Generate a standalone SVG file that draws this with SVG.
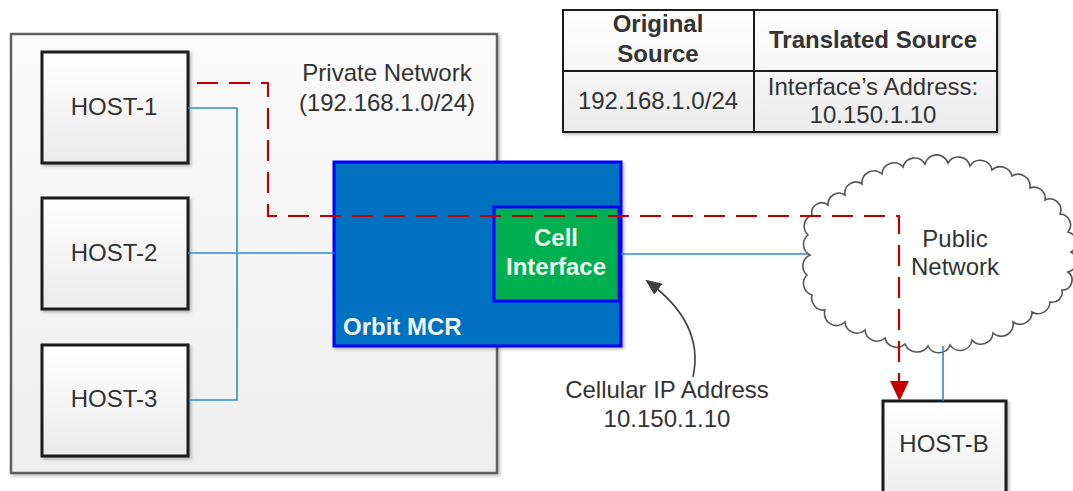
<svg xmlns="http://www.w3.org/2000/svg" width="1073" height="491" viewBox="0 0 1073 491">
<style>
text{font-family:"Liberation Sans",Arial,sans-serif;font-size:24px;fill:#333;text-anchor:middle}
.b{font-weight:bold}
.w{fill:#eef6ee;font-weight:bold}
.host{stroke:#1a1a1a;stroke-width:3;fill:url(#gh)}
.blue{fill:none;stroke:#2f8ad4;stroke-width:1.6}
.red{fill:none;stroke:#c00000;stroke-width:2.2;stroke-dasharray:21 11}
</style>
<defs>
<linearGradient id="gh" x1="0" y1="0" x2="0" y2="1"><stop offset="0" stop-color="#ffffff"/><stop offset="1" stop-color="#ebebeb"/></linearGradient>
<linearGradient id="gp" x1="0" y1="0" x2="0" y2="1"><stop offset="0" stop-color="#fbfbfb"/><stop offset="1" stop-color="#eeeeee"/></linearGradient>
<filter id="sh" x="-5%" y="-5%" width="110%" height="110%"><feDropShadow dx="2" dy="2" stdDeviation="1.5" flood-color="#000" flood-opacity="0.25"/></filter>
<marker id="ag" markerWidth="16" markerHeight="14" refX="14" refY="7" orient="auto" markerUnits="userSpaceOnUse" viewBox="0 0 16 14"><path d="M0,0 L16,7 L0,14 Z" fill="#404040"/></marker>
</defs>

<g id="private-network">
<rect x="11" y="34" width="486" height="439" fill="url(#gp)" stroke="#5f5f5f" stroke-width="2.5" filter="url(#sh)"/>
<text x="387" y="81">Private Network</text>
<text x="387" y="111">(192.168.1.0/24)</text>
</g>

<g id="host-1"><rect class="host" x="42" y="52" width="146" height="111" filter="url(#sh)"/><text x="114" y="115">HOST-1</text></g>
<g id="host-2"><rect class="host" x="42" y="198" width="146" height="111" filter="url(#sh)"/><text x="114" y="261">HOST-2</text></g>
<g id="host-3"><rect class="host" x="42" y="345" width="146" height="111" filter="url(#sh)"/><text x="114" y="407">HOST-3</text></g>

<g id="table">
<rect x="563" y="10" width="434" height="122" fill="url(#gh)" stroke="#1a1a1a" stroke-width="2" filter="url(#sh)"/>
<line x1="563" y1="71" x2="997" y2="71" stroke="#1a1a1a" stroke-width="2"/>
<line x1="754" y1="10" x2="754" y2="132" stroke="#1a1a1a" stroke-width="2"/>
<text class="b" x="658" y="32">Original</text>
<text class="b" x="658" y="62">Source</text>
<text class="b" x="873" y="48">Translated Source</text>
<text x="658" y="109">192.168.1.0/24</text>
<text x="873" y="95">Interface’s Address:</text>
<text x="873" y="123">10.150.1.10</text>
</g>

<g id="orbit-mcr">
<rect x="334" y="162" width="287" height="184" fill="#0070c0" stroke="#0000ff" stroke-width="3" filter="url(#sh)"/>
<text class="w" x="343" y="335" style="text-anchor:start">Orbit MCR</text>
</g>

<g id="cell-interface">
<rect x="494" y="207" width="125" height="94" fill="#00b050" stroke="#0000ff" stroke-width="3"/>
<text class="w" x="556" y="246">Cell</text>
<text class="w" x="556" y="275">Interface</text>
</g>

<g id="public-network">
<path d="M812,215 A12,12 0 0 0 808,235 A12,12 0 0 0 810,255 A12,12 0 0 0 807,275 A12,12 0 0 0 812,295 A12,12 0 0 0 825,310 A12,12 0 0 0 845,322 A12,12 0 0 0 865,330 A12,12 0 0 0 885,338 A12,12 0 0 0 905,344 A13,13 0 0 0 928,346 A12,12 0 0 0 950,345 A12,12 0 0 0 972,340 A12,12 0 0 0 993,333 A12,12 0 0 0 1013,322 A12,12 0 0 0 1032,312 A12,12 0 0 0 1050,302 A10,10 0 0 0 1062,290 A10,10 0 0 0 1068,272 A11,11 0 0 0 1071,252 A11,11 0 0 0 1068,232 A11,11 0 0 0 1060,214 A11,11 0 0 0 1045,200 A11,11 0 0 0 1030,188 A12,12 0 0 0 1012,176 A12,12 0 0 0 992,170 A12,12 0 0 0 970,166 A12,12 0 0 0 948,163 A12,12 0 0 0 925,164 A12,12 0 0 0 903,167 A12,12 0 0 0 882,174 A12,12 0 0 0 862,184 A11,11 0 0 0 845,195 A11,11 0 0 0 828,205 A10,10 0 0 0 812,215 Z" fill="#ffffff" stroke="#555" stroke-width="1.6"/>
<text x="955" y="247">Public</text>
<text x="955" y="275">Network</text>
</g>

<g id="host-b"><rect class="host" x="883" y="401" width="123" height="110" filter="url(#sh)"/><text x="944" y="452">HOST-B</text></g>

<g id="connectors">
<path class="blue" d="M188,108 H237 V400 H189"/>
<path class="blue" d="M188,253 H334"/>
<path class="blue" d="M621,254 H808"/>
<path class="blue" d="M943,346 V401"/>
<path class="red" d="M197,83 H268 V216 H899 V385"/>
<path d="M890,381 L909,381 L899.5,401 Z" fill="#c00000"/>
<path d="M693,377 C700,345 690,312 647,281" fill="none" stroke="#404040" stroke-width="1.6" marker-end="url(#ag)"/>
</g>

<g id="cellular-label">
<text x="667" y="398">Cellular IP Address</text>
<text x="667" y="427">10.150.1.10</text>
</g>
</svg>
